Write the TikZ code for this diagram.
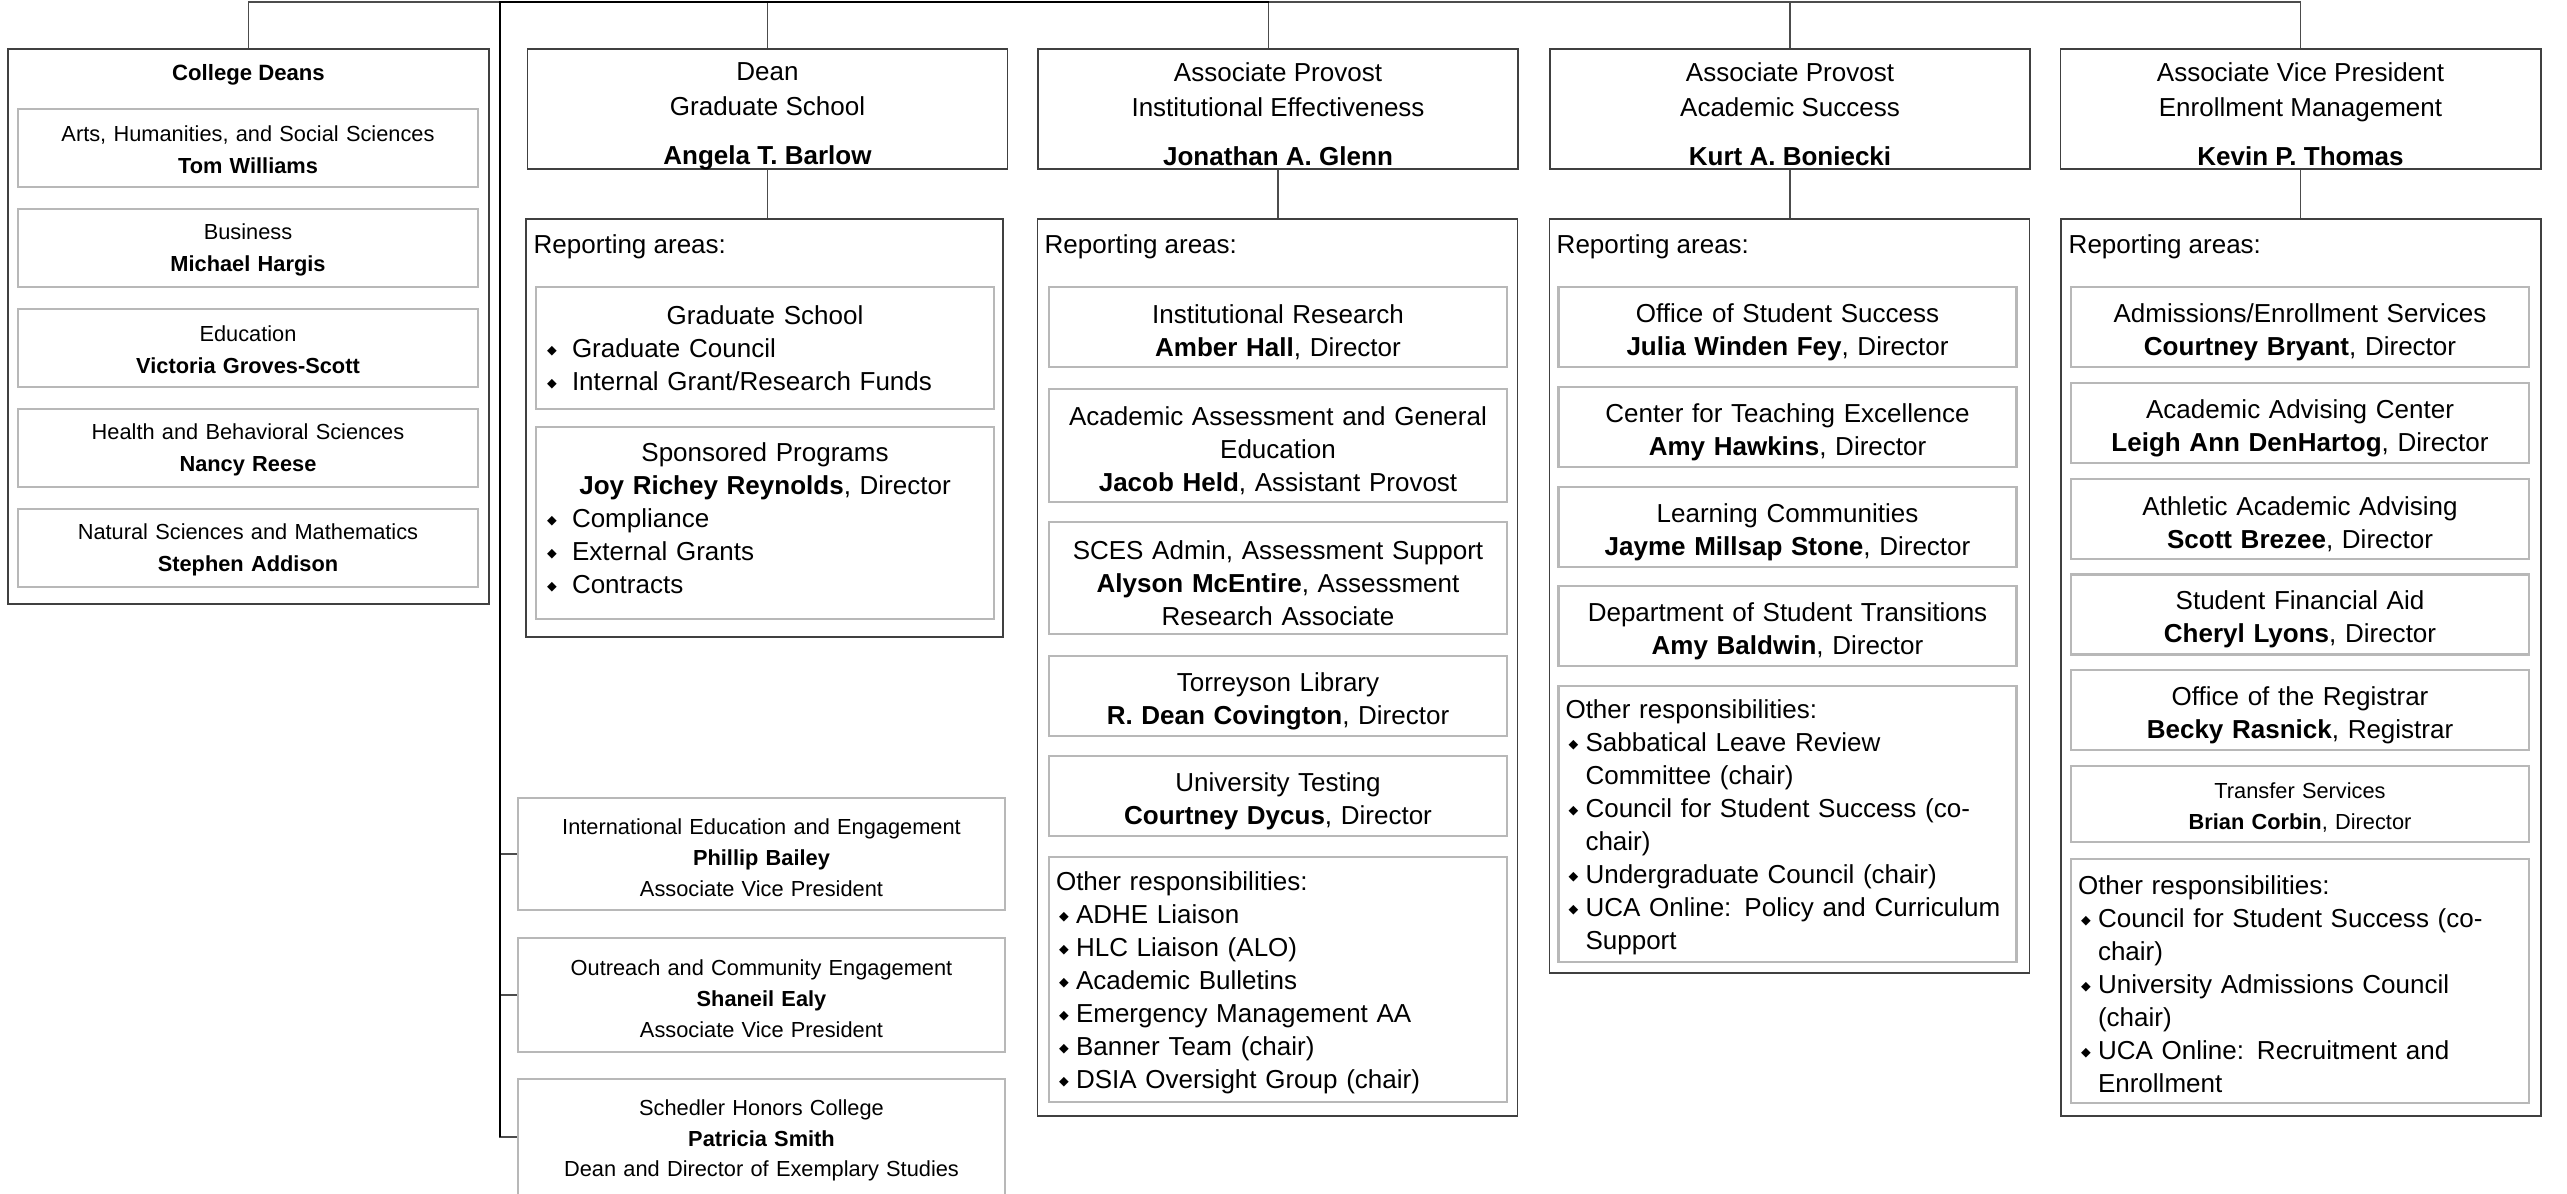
\documentclass[tikz,border=0pt]{standalone}
\usepackage{fontspec}
\setmainfont{Liberation Sans}
\newfontfamily\dejavu{DejaVu Sans}
\usetikzlibrary{positioning}
\newcommand*{\hdw }{48mm}
\newcommand*{\hdh }{12mm}
\newcommand*{\unw }{45.8mm}
\newcommand*{\lstw}{44.4mm}
\newcommand*{\itdia}{{\dejavu\fontsize{3.6}{4}\selectfont\raisebox{0.8pt}{◆}}}
\newcommand*{\itbul}{\makebox[2mm][l]{\hspace{0.3mm}\itdia}}
\newcommand*{\itind}{\hspace*{2mm}}
\newcommand*{\gsbul}{\makebox[2.9mm][l]{\hspace{0.4mm}\itdia}}

\begin{document}
\begin{tikzpicture}[x=0.1mm, y=-0.1mm, font=\fontsize{7.4}{9.4}\selectfont,
    headbox/.style={draw=black!75, line width=0.55pt, minimum width=\hdw, minimum height=\hdh, inner sep=0pt},
    headtxt/.style={anchor=north, align=center, inner sep=0pt, font=\fontsize{7.4}{9.8}\selectfont},
    repbox/.style={draw=black!75, line width=0.55pt, minimum width=\hdw, inner sep=0pt},
    replbl/.style={anchor=base west, inner sep=0pt},
    unitbox/.style={draw=black!28, line width=0.65pt, text width=\unw, minimum height=8mm, align=center, inner sep=0pt, text height=8.2pt},
    listbox/.style={unitbox, align=left, text width=\lstw, inner xsep=0.7mm, text height=7.25pt},
    smalltxt/.style={font=\fontsize{6.2}{8.8}\selectfont, text height=6.4pt},
    spinebox/.style={unitbox, smalltxt, text width=48.7mm},
    deantxt/.style={font=\fontsize{6.2}{9}\selectfont, text height=5.4pt, text width=46mm, minimum height=7.8mm},
    wire/.style={black!70, line width=0.45pt},
    rootwire/.style={black, line width=0.7pt}]
    \useasboundingbox (0,0) rectangle (2567,1193);

    % college deans
    \node[repbox, minimum width=48.1mm, minimum height=55.5mm] (deans) at (248.5,326.5) {};
    \node[inner sep=0pt, font=\fontsize{6.3}{8}\selectfont\bfseries] (deanstl) at (248.5,75) {College Deans};
    \node[unitbox, deantxt] (ahss) at (248,148) {Arts, Humanities, and Social Sciences\\\textbf{Tom Williams}};
    \node[unitbox, deantxt] (bus)  at (248,248) {Business\\\textbf{Michael Hargis}};
    \node[unitbox, deantxt] (educ) at (248,348) {Education\\\textbf{Victoria Groves-Scott}};
    \node[unitbox, deantxt] (hbs)  at (248,448) {Health and Behavioral Sciences\\\textbf{Nancy Reese}};
    \node[unitbox, deantxt] (nsm)  at (248,548) {Natural Sciences and Mathematics\\\textbf{Stephen Addison}};

    % heads
    \node[headbox] (gdhd) at (767.5,109) {};
    \node[headtxt] (gdhdtxt) at ([yshift=-1.42mm]gdhd.north) {Dean\\Graduate School\\[4.1pt]\textbf{Angela T. Barlow}};
    \node[headbox] (iehd) at (1278,109) {};
    \node[headtxt] (iehdtxt) at ([yshift=-1.42mm]iehd.north) {Associate Provost\\Institutional Effectiveness\\[4.1pt]\textbf{Jonathan A. Glenn}};
    \node[headbox] (ashd) at (1790,109) {};
    \node[headtxt] (ashdtxt) at ([yshift=-1.42mm]ashd.north) {Associate Provost\\Academic Success\\[4.1pt]\textbf{Kurt A. Boniecki}};
    \node[headbox] (emhd) at (2300.5,109) {};
    \node[headtxt] (emhdtxt) at ([yshift=-1.42mm]emhd.north) {Associate Vice President\\Enrollment Management\\[4.1pt]\textbf{Kevin P. Thomas}};

    % reporting areas
    \node[repbox, minimum width=47.7mm, minimum height=41.8mm] (gdrep) at (764.5,428) {};
    \node[replbl] (gdrepl) at (533,253) {Reporting areas:};
    \node[repbox, minimum height=89.7mm] (ierep) at (1277.5,667.5) {};
    \node[replbl] (ierepl) at (1044,253) {Reporting areas:};
    \node[repbox, minimum height=75.4mm] (asrep) at (1789.5,596) {};
    \node[replbl] (asrepl) at (1556,253) {Reporting areas:};
    \node[repbox, minimum height=89.7mm] (emrep) at (2301,667.5) {};
    \node[replbl] (emrepl) at (2068,253) {Reporting areas:};

    % graduate school
    \node[listbox, text height=5.4pt, minimum height=12.2mm] (gsch) at (765,348) {\makebox[\linewidth]{Graduate School}\\\gsbul Graduate Council\\\gsbul Internal Grant/Research Funds};
    \node[listbox, text height=5.4pt, minimum height=19.2mm] (spon) at (765,523) {\makebox[\linewidth]{Sponsored Programs}\\\makebox[\linewidth]{\textbf{Joy Richey Reynolds}, Director}\\\gsbul Compliance\\\gsbul External Grants\\\gsbul Contracts\rule[-2.8pt]{0pt}{0pt}};

    % institutional effectiveness
    \node[unitbox] (ir) at (1278,327) {Institutional Research\\\textbf{Amber Hall}, Director};
    \node[unitbox, minimum height=11.3mm] (aage) at (1278,445.5) {Academic Assessment and General\\Education\\\textbf{Jacob Held}, Assistant Provost};
    \node[unitbox, minimum height=11.2mm] (sces) at (1278,578) {SCES Admin, Assessment Support\\\textbf{Alyson McEntire}, Assessment\\Research Associate};
    \node[unitbox] (lib) at (1278,696) {Torreyson Library\\\textbf{R. Dean Covington}, Director};
    \node[unitbox] (test) at (1278,796) {University Testing\\\textbf{Courtney Dycus}, Director};
    \node[listbox, minimum height=24.5mm] (ieoth) at (1278,979.5) {Other responsibilities:\\\itbul ADHE Liaison\\\itbul HLC Liaison (ALO)\\\itbul Academic Bulletins\\\itbul Emergency Management AA\\\itbul Banner Team (chair)\\\itbul DSIA Oversight Group (chair)};

    % academic success
    \node[unitbox] (oss) at (1787.5,327) {Office of Student Success\\\textbf{Julia Winden Fey}, Director};
    \node[unitbox] (cte) at (1787.5,427) {Center for Teaching Excellence\\\textbf{Amy Hawkins}, Director};
    \node[unitbox] (lc)  at (1787.5,527) {Learning Communities\\\textbf{Jayme Millsap Stone}, Director};
    \node[unitbox] (dst) at (1787.5,626) {Department of Student Transitions\\\textbf{Amy Baldwin}, Director};
    \node[listbox, minimum height=27.6mm] (asoth) at (1787.5,824) {Other responsibilities:\\\itbul Sabbatical Leave Review\\\itind Committee (chair)\\\itbul Council for Student Success (co-\\\itind chair)\\\itbul Undergraduate Council (chair)\\\itbul UCA Online: Policy and Curriculum\\\itind Support};

    % enrollment management
    \node[unitbox] (adm) at (2300,327) {Admissions/Enrollment Services\\\textbf{Courtney Bryant}, Director};
    \node[unitbox] (aac) at (2300,423) {Academic Advising Center\\\textbf{Leigh Ann DenHartog}, Director};
    \node[unitbox] (aaa) at (2300,519) {Athletic Academic Advising\\\textbf{Scott Brezee}, Director};
    \node[unitbox] (sfa) at (2300,614.5) {Student Financial Aid\\\textbf{Cheryl Lyons}, Director};
    \node[unitbox] (reg) at (2300,710) {Office of the Registrar\\\textbf{Becky Rasnick}, Registrar};
    \node[unitbox, smalltxt, minimum height=7.6mm] (trs) at (2300,804) {Transfer Services\\\textbf{Brian Corbin}, Director};
    \node[listbox, minimum height=24.4mm] (emoth) at (2300,981) {Other responsibilities:\\\itbul Council for Student Success (co-\\\itind chair)\\\itbul University Admissions Council\\\itind (chair)\\\itbul UCA Online: Recruitment and\\\itind Enrollment};

    % direct reports on the spine
    \node[spinebox, minimum height=11.2mm] (intl) at (761.5,854) {International Education and Engagement\\\textbf{Phillip Bailey}\\Associate Vice President};
    \node[spinebox, minimum height=11.4mm] (outr) at (761.5,995) {Outreach and Community Engagement\\\textbf{Shaneil Ealy}\\Associate Vice President};
    \node[spinebox, minimum height=11.6mm] (hon) at (761.5,1137) {Schedler Honors College\\\textbf{Patricia Smith}\\Dean and Director of Exemplary Studies};

    % connectors
    \coordinate (top) at (500,2);
    \coordinate (iein) at ([xshift=-0.95mm]iehd.north);
    \draw[wire] (deans.north) |- (top) -| (emhd.north);
    \draw[wire] (gdhd.north) -- (gdhd.north |- top);
    \draw[wire] (iein) -- (iein |- top);
    \draw[wire] (ashd.north) -- (ashd.north |- top);
    \draw[wire] (gdhd.south) -- (gdhd.south |- gdrep.north);
    \draw[wire] (iehd.south) -- (iehd.south |- ierep.north);
    \draw[wire] (ashd.south) -- (ashd.south |- asrep.north);
    \draw[wire] (emhd.south) -- (emhd.south |- emrep.north);
    \draw[wire] (top) |- (intl.west);
    \draw[wire] (top) |- (outr.west);
    \draw[wire] (top) |- (hon.west);
    \draw[rootwire] (iein |- top) -- (top) -- (top |- hon.west);
\end{tikzpicture}
\end{document}
